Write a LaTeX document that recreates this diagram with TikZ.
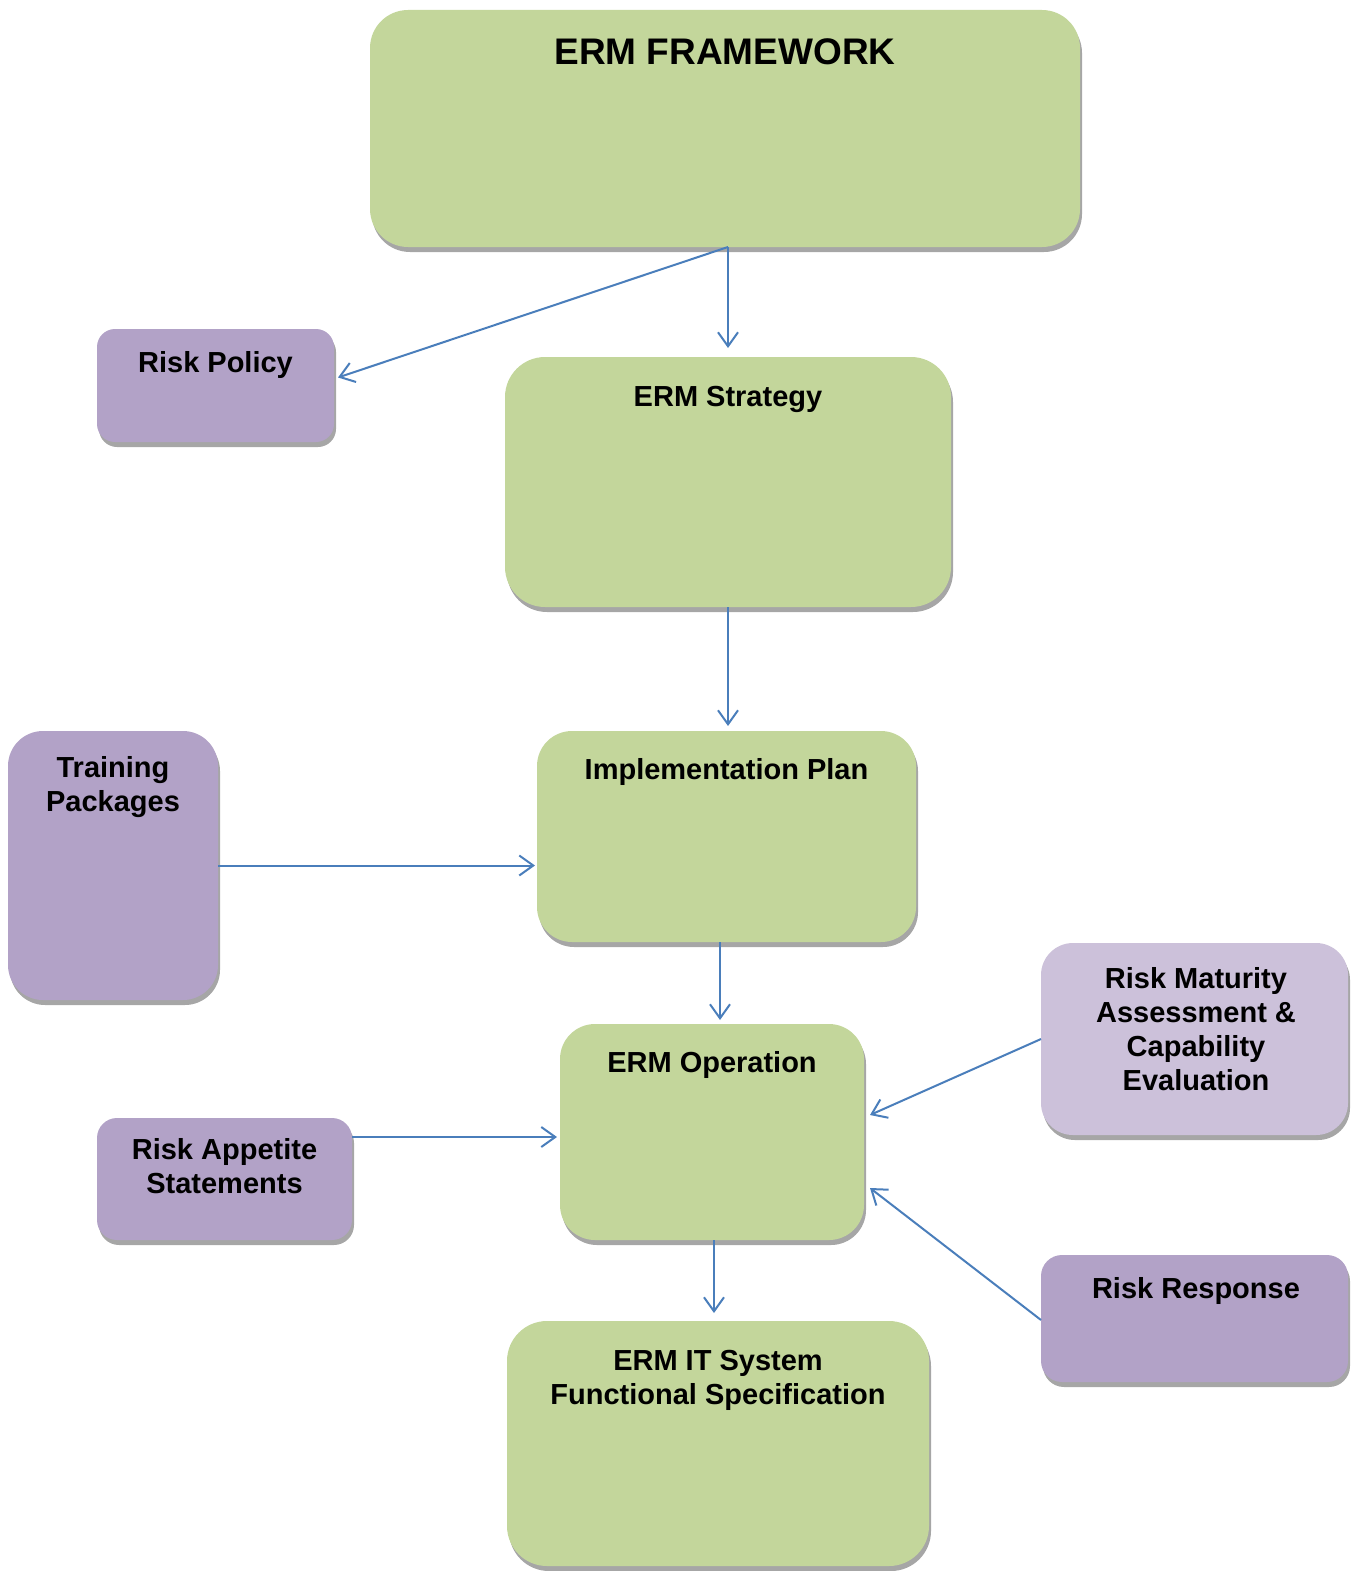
\documentclass[tikz,border=0pt]{standalone}
\usepackage{fontspec}
\setmainfont{Liberation Sans}
\usetikzlibrary{arrows.meta,shadows,calc}
\definecolor{boxgreen}{HTML}{C3D69B}
\definecolor{boxpurple}{HTML}{B2A2C7}
\definecolor{boxlilac}{HTML}{CCC1DA}
\definecolor{shadowgray}{HTML}{A6A6A6}
\definecolor{arrowblue}{HTML}{4A7EBB}
\tikzset{
  box/.style={rectangle, inner sep=0pt, outer sep=0pt,
    drop shadow={shadow xshift=2pt, shadow yshift=-5pt, fill=shadowgray, opacity=1}},
  gbox/.style={box, fill=boxgreen},
  pbox/.style={box, fill=boxpurple},
  lbox/.style={box, fill=boxlilac},
  lbl/.style={inner sep=0pt, align=center, anchor=base, font=\bfseries\fontsize{29}{34}\selectfont},
  conn/.style={draw=arrowblue, line width=2pt, -{Straight Barb[length=14pt,width=20pt,line width=2pt]}}
}
\begin{document}
\begin{tikzpicture}[x=1pt,y=-1pt]
\useasboundingbox (0,0) rectangle (1353,1571);
% boxes
\node[gbox, minimum width=710pt, minimum height=237pt, rounded corners=38pt] (fw) at (725,128.5) {};
\node[pbox, minimum width=237pt, minimum height=113pt, rounded corners=18pt] (rp) at (215.5,385.5) {};
\node[gbox, minimum width=446pt, minimum height=250pt, rounded corners=40pt] (st) at (728,482) {};
\node[gbox, minimum width=379pt, minimum height=211pt, rounded corners=35pt] (ip) at (726.5,836.5) {};
\node[pbox, minimum width=210pt, minimum height=269pt, rounded corners=35pt] (tp) at (113,865.5) {};
\node[gbox, minimum width=304pt, minimum height=216pt, rounded corners=35pt] (op) at (712,1132) {};
\node[lbox, minimum width=307pt, minimum height=192pt, rounded corners=32pt] (rm) at (1194.5,1039) {};
\node[pbox, minimum width=255pt, minimum height=122pt, rounded corners=20pt] (ra) at (224.5,1179) {};
\node[pbox, minimum width=307pt, minimum height=127pt, rounded corners=21pt] (rr) at (1194.5,1318.5) {};
\node[gbox, minimum width=422pt, minimum height=245pt, rounded corners=40pt] (it) at (718,1443.5) {};
% labels (anchor base = baseline of last line)
\node[lbl, font=\bfseries\fontsize{37}{40}\selectfont] (fwt) at (725,65) {ERM FRAMEWORK};
\node[lbl] (rpt) at (215.5,372) {Risk Policy};
\node[lbl] (stt) at (728,406) {ERM Strategy};
\node[lbl] (ipt) at (726.5,779) {Implementation Plan};
\node[lbl] (tpt) at (113,811) {Training\\Packages};
\node[lbl] (opt) at (712,1072) {ERM Operation};
\node[lbl] (rmt) at (1196,1090) {Risk Maturity\\Assessment \&\\Capability\\Evaluation};
\node[lbl] (rat) at (224.5,1193) {Risk Appetite\\Statements};
\node[lbl] (rrt) at (1196,1298) {Risk Response};
\node[lbl] (itt) at (718,1404) {ERM IT System\\Functional Specification};
% connectors
\coordinate (fwout) at (st.north |- fw.south);
\draw[conn, shorten >=9pt] (fwout) -- (st.north);
\draw[conn] (fwout) -- ($(rp.east)+(4,-8)$);
\draw[conn, shorten >=5pt] (st.south) -- (st.south |- ip.north);
\draw[conn, shorten >=2pt] (tp.east) -- (tp.east -| ip.west);
\draw[conn, shorten >=4pt] ([xshift=-6.5pt]ip.south) -- ([xshift=-6.5pt]ip.south |- op.north);
\draw[conn, shorten >=3pt] ([yshift=42pt]ra.east) -- ([yshift=42pt]ra.east -| op.west);
\draw[conn] (rm.west) -- ([xshift=6pt,yshift=17pt]op.east);
\draw[conn] ([yshift=-1.5pt]rr.west) -- ([xshift=6pt,yshift=-56pt]op.east);
\draw[conn, shorten >=8pt] ([xshift=2pt]op.south) -- ([xshift=2pt]op.south |- it.north);
\end{tikzpicture}
\end{document}
